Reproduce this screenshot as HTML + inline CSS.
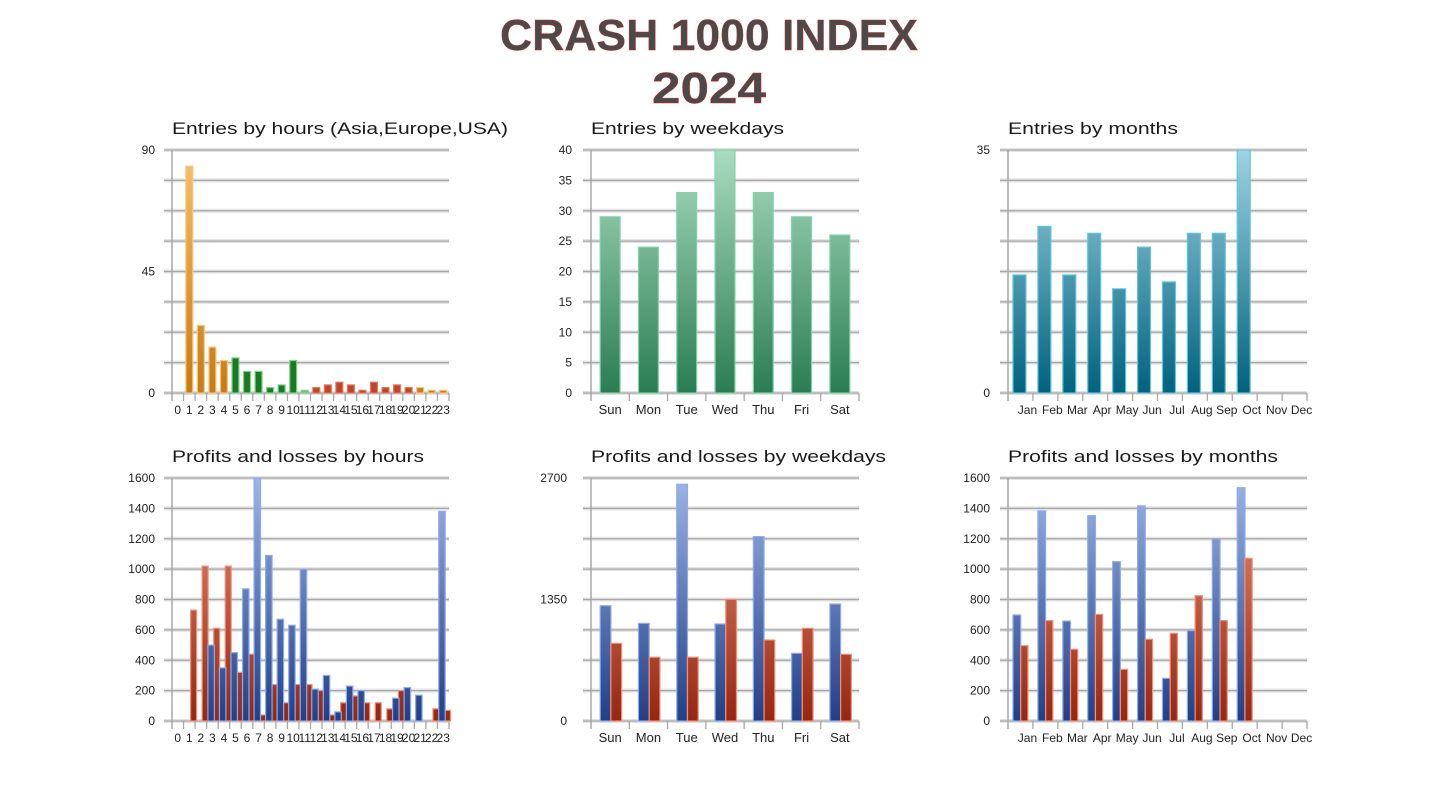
<!DOCTYPE html>
<html><head><meta charset="utf-8"><style>
html,body{margin:0;padding:0;background:#fff;}
svg{display:block;font-family:"Liberation Sans",sans-serif;}
</style></head><body>
<svg id="svg" width="1440" height="799" viewBox="0 0 1440 799">
<defs>
<linearGradient id="gGreen" gradientUnits="userSpaceOnUse" x1="0" y1="150" x2="0" y2="393"><stop offset="0" stop-color="#a9dcc0"/><stop offset="1" stop-color="#2a7d52"/></linearGradient>
<linearGradient id="gTeal" gradientUnits="userSpaceOnUse" x1="0" y1="150" x2="0" y2="393"><stop offset="0" stop-color="#9dd3e3"/><stop offset="1" stop-color="#00627e"/></linearGradient>
<linearGradient id="gBlue" gradientUnits="userSpaceOnUse" x1="0" y1="478" x2="0" y2="721"><stop offset="0" stop-color="#9db5e6"/><stop offset="1" stop-color="#213f88"/></linearGradient>
<linearGradient id="gRed" gradientUnits="userSpaceOnUse" x1="0" y1="478" x2="0" y2="721"><stop offset="0" stop-color="#ec9278"/><stop offset="1" stop-color="#962610"/></linearGradient>
<linearGradient id="gOrange" gradientUnits="userSpaceOnUse" x1="0" y1="150" x2="0" y2="393"><stop offset="0" stop-color="#f7c070"/><stop offset="1" stop-color="#c97a10"/></linearGradient>
</defs>
<text x="709" y="50" text-anchor="middle" font-size="44" font-weight="bold" fill="#4a4a4a" stroke="#e02020" stroke-width="0.4" textLength="418" lengthAdjust="spacingAndGlyphs">CRASH 1000 INDEX</text>
<text x="709" y="103" text-anchor="middle" font-size="44" font-weight="bold" fill="#4a4a4a" stroke="#e02020" stroke-width="0.4" textLength="114" lengthAdjust="spacingAndGlyphs">2024</text>
</svg>
<script>
const hourLabels = ["0","1","2","3","4","5","6","7","8","9","10","11","12","13","14","15","16","17","18","19","20","21","22","23"];
const weekdayLabels = ["Sun","Mon","Tue","Wed","Thu","Fri","Sat"];
const monthLabels = ["Jan","Feb","Mar","Apr","May","Jun","Jul","Aug","Sep","Oct","Nov","Dec"];
const hourEntries = [0,84,25,17,12,13,8,8,2,3,12,1,2,3,4,3,1,4,2,3,2,2,1,1];
const weekdayEntries = [29,24,33,40,33,29,26];
const monthEntries = [17,24,17,23,15,21,16,23,23,35,0,0];
const hourProfits = [0,0,0,500,350,450,870,1600,1090,670,630,1000,210,300,60,230,200,0,0,150,220,170,0,1380];
const hourLosses = [0,730,1020,610,1020,320,440,40,240,120,240,240,200,40,120,165,120,120,80,200,0,0,80,70];
const weekdayProfits = [1281,1085,2630,1078,2048,752,1300];
const weekdayLosses = [863,708,708,1352,900,1030,741];
const monthProfits = [698,1383,658,1352,1049,1416,281,595,1198,1536,0,0];
const monthLosses = [496,661,472,702,340,538,577,825,661,1071,0,0];
const hourTicks1 = ["0","45","90"];
const weekdayTicks1 = ["0","5","10","15","20","25","30","35","40"];
const monthTicks1 = ["0","35"];
const hourTicks2 = ["0","200","400","600","800","1000","1200","1400","1600"];
const weekdayTicks2 = ["0","1350","2700"];
const monthTicks2 = ["0","200","400","600","800","1000","1200","1400","1600"];

const NS="http://www.w3.org/2000/svg";
const svg=document.getElementById('svg');
function mk(tag,attrs,parent){const e=document.createElementNS(NS,tag);for(const k in attrs)e.setAttribute(k,attrs[k]);(parent||svg).appendChild(e);return e;}

function chart(o){
  const g=mk('g',{});
  
  
  const L=o.x0,R=o.x1,T=o.y0,B=o.y1,max=o.max;
  const ys=v=>B-(v/max)*(B-T);
  const n=o.cats.length,band=(R-L)/n;
  const xs=i=>L+band*i;
  const t=mk('text',{x:L,y:T-16,'font-size':17,fill:'#1a1a1a',textLength:o.titleLen,lengthAdjust:'spacingAndGlyphs'},g);
  t.textContent=o.title;
  
  
  for(let k=0;k<=8;k++){
    const y=T+(B-T)*k/8;
    mk('line',{x1:L-8,x2:R,y1:y,y2:y,stroke:'#e2e2e2','stroke-width':4},g);
    const gl=mk('line',{x1:L-8,x2:R,y1:y,y2:y,stroke:'#a8a8a8','stroke-width':1.3},g);
    
    
  }
  const ax=mk('line',{x1:L,x2:L,y1:T,y2:B+8,stroke:'#a8a8a8','stroke-width':1.5},g);
  
  
  for(let i=1;i<=n;i++){mk('line',{x1:xs(i),x2:xs(i),y1:B,y2:B+8,stroke:'#a8a8a8','stroke-width':1.3},g);}
  o.ticks.forEach(s=>{
    const tl=mk('text',{x:o.labRight,y:ys(+s)+4,'text-anchor':'end','font-size':12,fill:'#222'},g);
    tl.textContent=s;
    
    
  });
  o.cats.forEach((c,i)=>{
    const a={x:xs(i)+band/2+(o.labOff||0),y:B+21,'text-anchor':'middle','font-size':o.xfs||13,fill:'#222'};
    if(o.labLen)a.textLength=o.labLen;
    const xl=mk('text',a,g);
    xl.textContent=c;
    
    
  });
  o.series.forEach(s=>{
    s.values.forEach((v,i)=>{
      if(!v)return;
      const x=xs(i)+band*s.off, y=ys(v);
      const r=mk('rect',{x:x,y:y,width:band*s.w,height:B-y,fill:s.fill(i),stroke:s.stroke(i),'stroke-width':1.2},g);
      
      
    });
  });
}
const hourColor=i=> i<=4||i>=21?'url(#gOrange)':(i<=11?(i==11?'#6cc07a':'#1a7a22'):'#c0442a');
const hourStroke=i=> i<=4||i>=21?'#f5c580':(i<=11?'#7fd08a':'#e07a60');
chart({name:'entries-by-hours-chart',title:'Entries by hours (Asia,Europe,USA)',titleLen:336,x0:172,x1:449,y0:150,y1:393,max:90,ticks:hourTicks1,labRight:155,cats:hourLabels,xfs:12,
  series:[{name:'hour-entries-bar',values:hourEntries,off:0.2,w:0.6,fill:hourColor,stroke:hourStroke}]});
chart({name:'entries-by-weekdays-chart',title:'Entries by weekdays',titleLen:193,x0:591,x1:859,y0:150,y1:393,max:40,ticks:weekdayTicks1,labRight:572,cats:weekdayLabels,
  series:[{name:'weekday-entries-bar',values:weekdayEntries,off:0.24,w:0.52,fill:()=>'url(#gGreen)',stroke:()=>'#80d3a8'}]});
chart({name:'entries-by-months-chart',title:'Entries by months',titleLen:170,x0:1008,x1:1307,y0:150,y1:393,max:35,ticks:monthTicks1,labRight:990,cats:monthLabels,labOff:7,xfs:12,
  series:[{name:'month-entries-bar',values:monthEntries,off:0.2,w:0.52,fill:()=>'url(#gTeal)',stroke:()=>'#60c4e0'}]});
chart({name:'profits-losses-by-hours-chart',title:'Profits and losses by hours',titleLen:252,x0:172,x1:449,y0:478,y1:721,max:1600,ticks:hourTicks2,labRight:155,cats:hourLabels,xfs:12,
  series:[{name:'hour-loss-bar',values:hourLosses,off:0.61,w:0.52,fill:()=>'url(#gRed)',stroke:()=>'#f09078'},
          {name:'hour-profit-bar',values:hourProfits,off:0.11,w:0.56,fill:()=>'url(#gBlue)',stroke:()=>'#8eaaea'}]});
chart({name:'profits-losses-by-weekdays-chart',title:'Profits and losses by weekdays',titleLen:295,x0:591,x1:859,y0:478,y1:721,max:2700,ticks:weekdayTicks2,labRight:567,cats:weekdayLabels,
  series:[{name:'weekday-profit-bar',values:weekdayProfits,off:0.24,w:0.28,fill:()=>'url(#gBlue)',stroke:()=>'#8eaaea'},
          {name:'weekday-loss-bar',values:weekdayLosses,off:0.52,w:0.28,fill:()=>'url(#gRed)',stroke:()=>'#f09078'}]});
chart({name:'profits-losses-by-months-chart',title:'Profits and losses by months',titleLen:270,x0:1008,x1:1307,y0:478,y1:721,max:1600,ticks:monthTicks2,labRight:990,cats:monthLabels,labOff:7,xfs:12,
  series:[{name:'month-profit-bar',values:monthProfits,off:0.2,w:0.31,fill:()=>'url(#gBlue)',stroke:()=>'#8eaaea'},
          {name:'month-loss-bar',values:monthLosses,off:0.51,w:0.29,fill:()=>'url(#gRed)',stroke:()=>'#f09078'}]});
</script>
</body></html>
